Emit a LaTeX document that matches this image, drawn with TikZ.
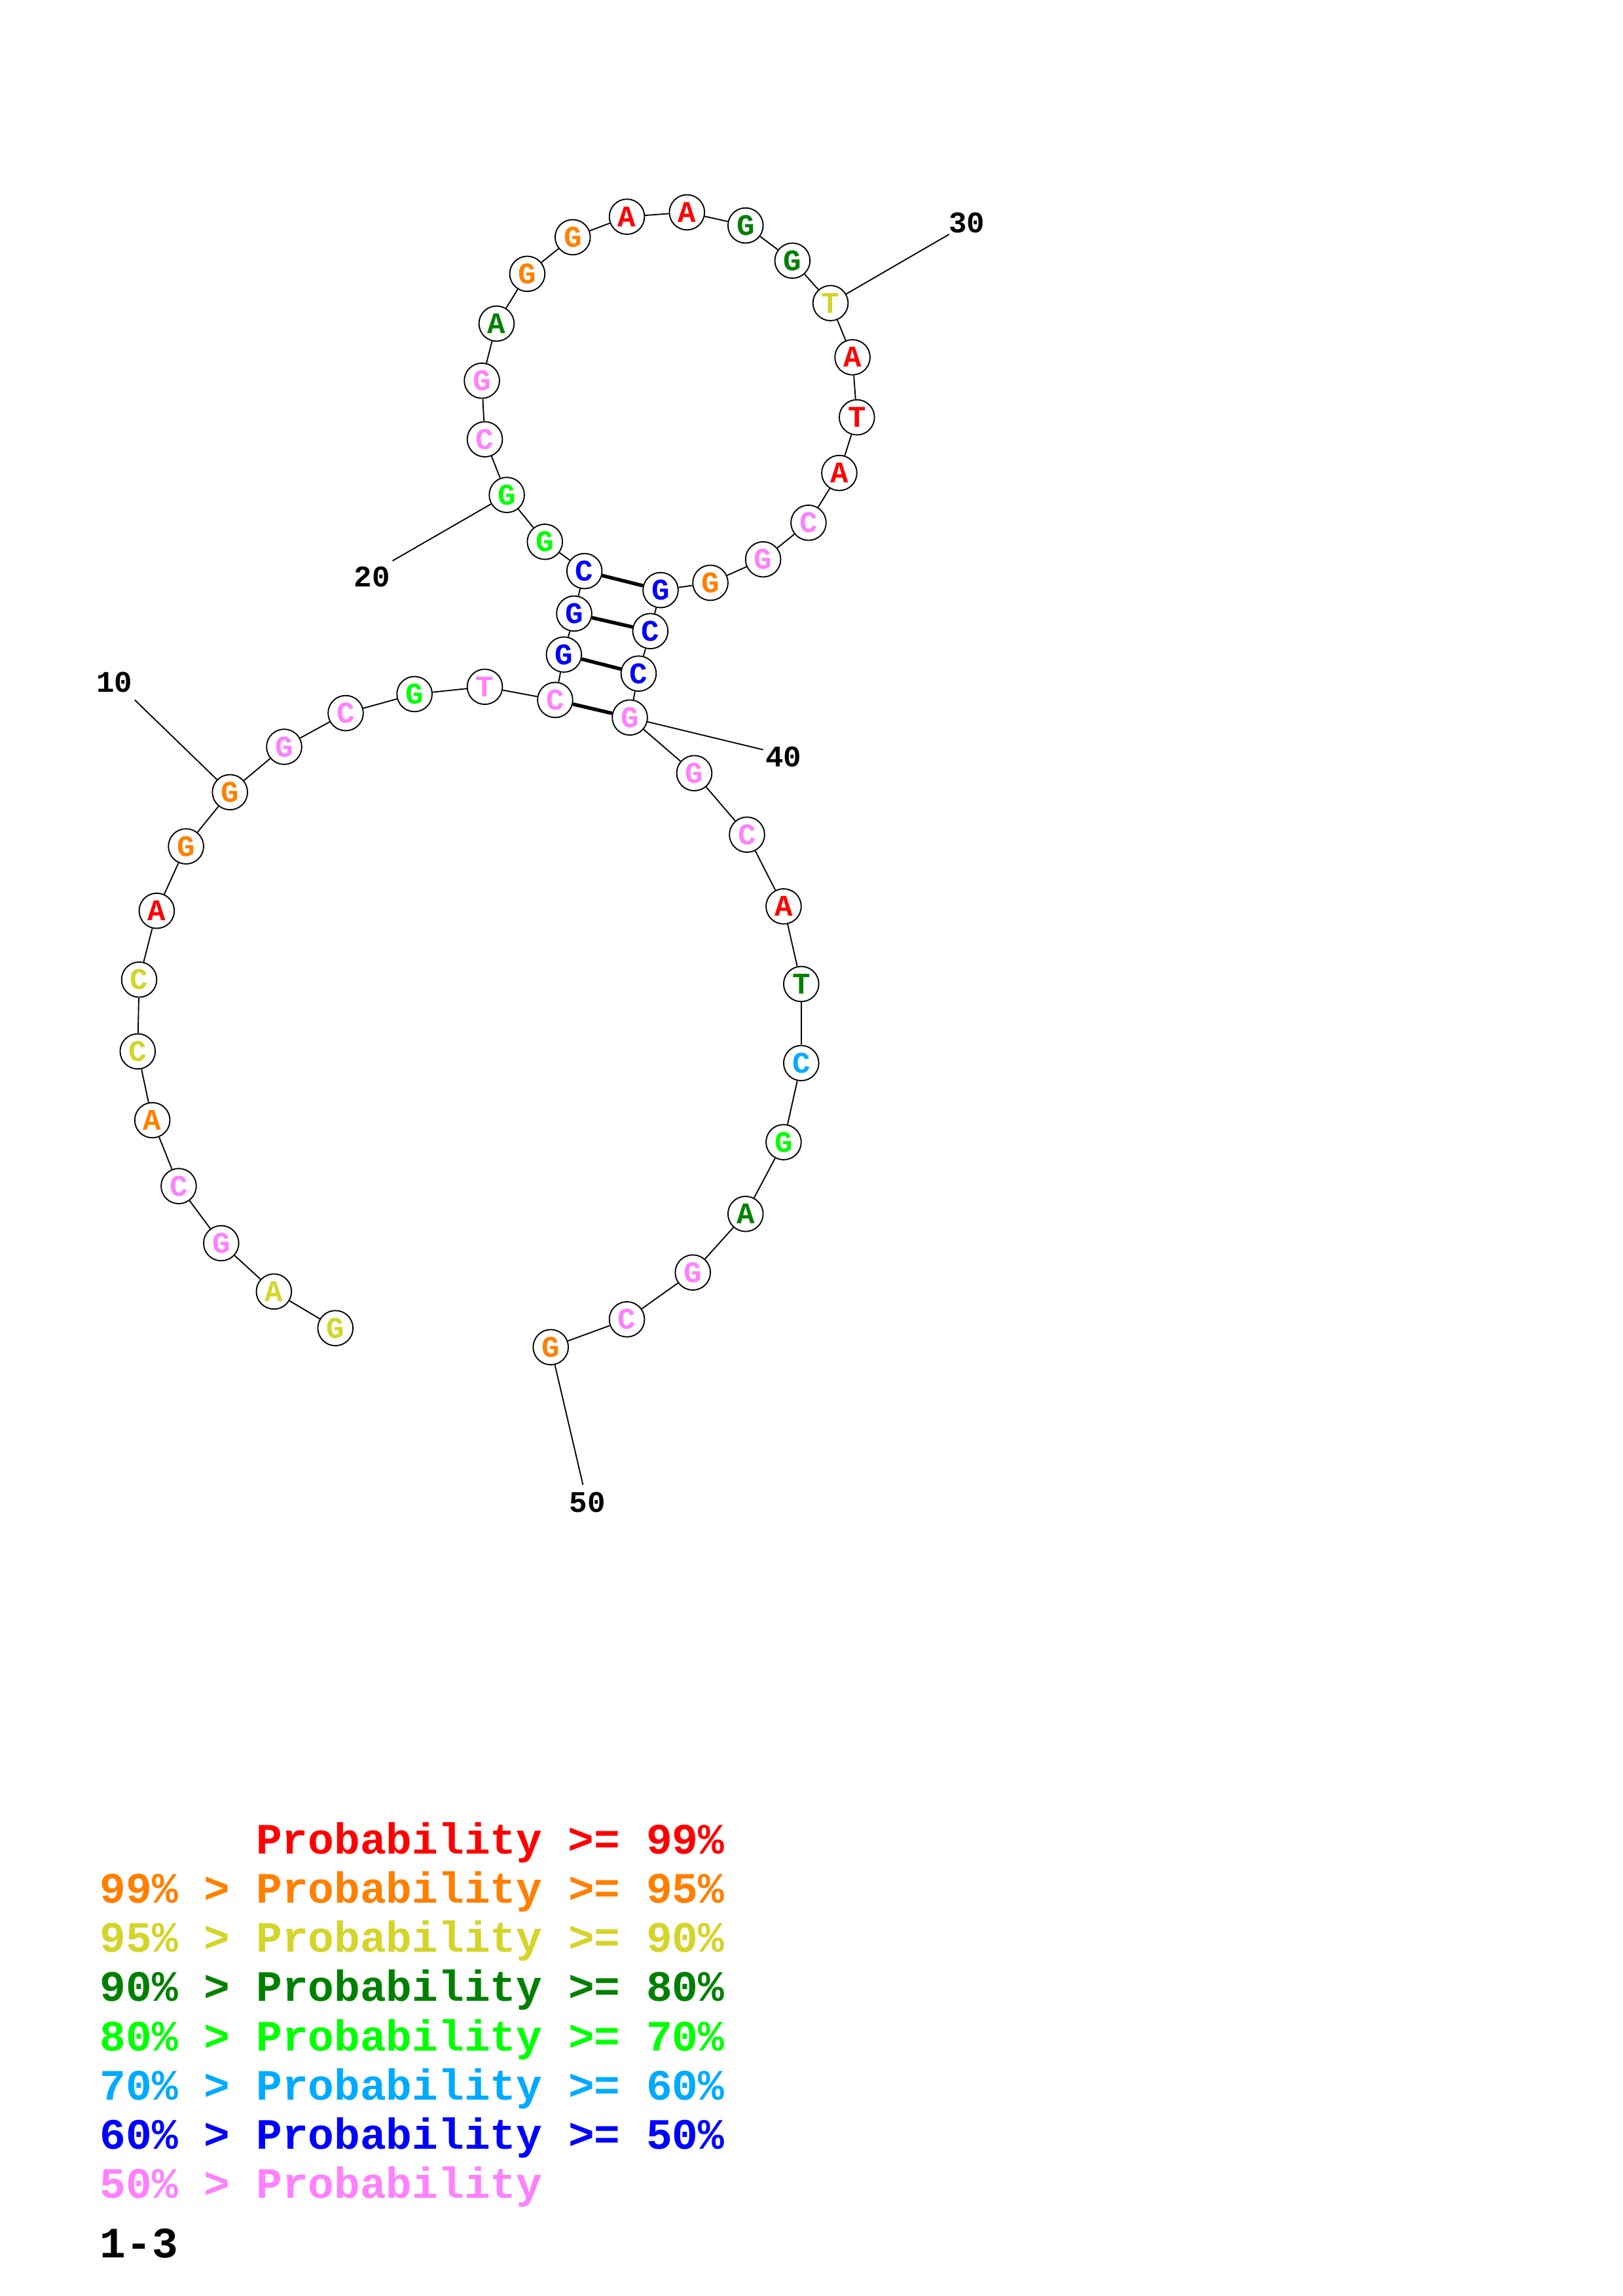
\documentclass[tikz,border=0pt]{standalone}
\usepackage{fontspec}
\setmainfont{Liberation Mono}
\definecolor{pR}{RGB}{255,0,0}
\definecolor{pO}{RGB}{255,128,0}
\definecolor{pY}{RGB}{212,212,42}
\definecolor{pDG}{RGB}{0,128,0}
\definecolor{pG}{RGB}{0,255,0}
\definecolor{pLB}{RGB}{0,170,255}
\definecolor{pB}{RGB}{0,0,255}
\definecolor{pP}{RGB}{255,128,255}
\begin{document}
\begin{tikzpicture}[x=0.53726pt,y=-0.53726pt,
  nt/.style={circle,draw,line width=0.45pt,minimum size=12.9pt,inner sep=0pt,fill=white,font=\bfseries\fontsize{11}{11}\selectfont},
  bb/.style={line width=0.45pt},
  pr/.style={line width=1.3pt},
  num/.style={font=\bfseries\fontsize{11}{11}\selectfont,inner sep=0pt},
  leg/.style={anchor=base west,inner sep=0pt,font=\bfseries\fontsize{15.9}{16}\selectfont}]
\useasboundingbox (0,0) rectangle (1108,1568);
% number label lines
\coordinate (c10) at (92,478);
\coordinate (c20) at (268,383);
\coordinate (c30) at (648,160);
\coordinate (c40) at (521,512);
\coordinate (c50) at (398,1014);
\foreach \i/\x/\y/\l/\c in {
 1/229/907/G/pY, 2/187/882/A/pY, 3/151/849/G/pP, 4/122/810/C/pP, 5/104/765/A/pO,
 6/94/718/C/pY, 7/95/669/C/pY, 8/107/622/A/pR, 9/127/578/G/pO, 10/157/541/G/pO,
 11/194/510/G/pP, 12/236/487/C/pP, 13/283/474/G/pG, 14/331/469/T/pP, 15/379/478/C/pP,
 16/385/447/G/pB, 17/392/419/G/pB, 18/399/390/C/pB, 19/372/370/G/pG, 20/346/338/G/pG,
 21/331/300/C/pP, 22/329/260/G/pP, 23/339/221/A/pDG, 24/360/187/G/pO, 25/391/162/G/pO,
 26/428/148/A/pR, 27/469/145/A/pR, 28/509/154/G/pDG, 29/541/178/G/pDG, 30/567/207/T/pY,
 31/582/244/A/pR, 32/585/285/T/pR, 33/573/323/A/pR, 34/552/357/C/pP, 35/521/382/G/pP,
 36/485/398/G/pO, 37/451/403/G/pB, 38/444/431/C/pB, 39/436/460/C/pB, 40/430/490/G/pP,
 41/474/528/G/pP, 42/510/570/C/pP, 43/535/619/A/pR, 44/547/672/T/pDG, 45/547/726/C/pLB,
 46/535/780/G/pG, 47/509/829/A/pDG, 48/473/869/G/pP, 49/428/901/C/pP, 50/376/920/G/pO}
 { \node[nt,text=\c] (n\i) at (\x,\y) {\l}; }
\foreach \i in {10,20,30,40,50} { \draw[bb] (n\i) -- (c\i); }
\foreach \i [evaluate=\i as \j using int(\i+1)] in {1,...,49} { \draw[bb] (n\i) -- (n\j); }
\draw[pr] (n15) -- (n40);
\draw[pr] (n16) -- (n39);
\draw[pr] (n17) -- (n38);
\draw[pr] (n18) -- (n37);
\node[num] (l10) at (78,466) {10};
\node[num] (l20) at (254,394) {20};
\node[num] (l30) at (660,152) {30};
\node[num] (l40) at (535,517) {40};
\node[num] (l50) at (401,1026) {50};
% legend
\node[leg,text=pR] (g1) at (174.5,1266) {Probability >= 99\%};
\node[leg,text=pO] (g2) at (68,1299.6) {99\% > Probability >= 95\%};
\node[leg,text=pY] (g3) at (68,1333.2) {95\% > Probability >= 90\%};
\node[leg,text=pDG] (g4) at (68,1366.8) {90\% > Probability >= 80\%};
\node[leg,text=pG] (g5) at (68,1400.4) {80\% > Probability >= 70\%};
\node[leg,text=pLB] (g6) at (68,1434) {70\% > Probability >= 60\%};
\node[leg,text=pB] (g7) at (68,1467.6) {60\% > Probability >= 50\%};
\node[leg,text=pP] (g8) at (68,1501.2) {50\% > Probability};
\node[leg,text=black] (g9) at (68,1542) {1-3};
\end{tikzpicture}
\end{document}
